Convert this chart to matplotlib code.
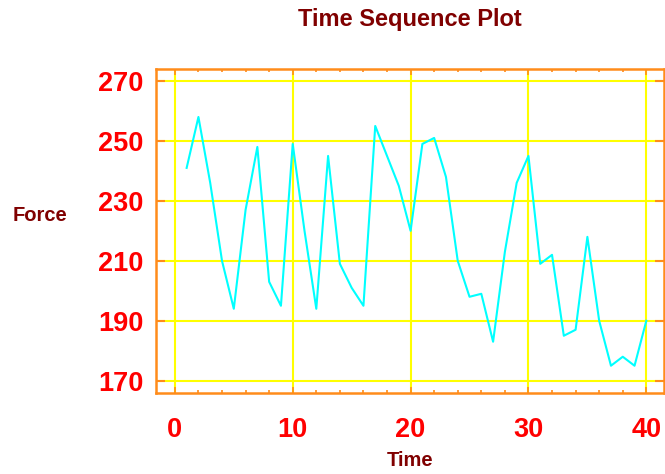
import matplotlib
matplotlib.use("Agg")
import matplotlib.pyplot as plt
from matplotlib.ticker import MultipleLocator

time = list(range(1, 41))
force = [241, 258, 236, 210, 194, 227, 248, 203, 195, 249,
         220, 194, 245, 209, 201, 195, 255, 245, 235, 220,
         249, 251, 238, 210, 198, 199, 183, 213, 236, 245,
         209, 212, 185, 187, 218, 190, 175, 178, 175, 190]

x_ticks = [0, 10, 20, 30, 40]
y_ticks = [170, 190, 210, 230, 250, 270]

title = "Time Sequence Plot"
xlabel = "Time"
ylabel = "Force"

plt.rcParams['font.family'] = ['Liberation Sans', 'DejaVu Sans']

fig = plt.figure(figsize=(6.65, 4.74), dpi=100)
ax = fig.add_axes([156/665, 1-393/474, (664-156)/665, (393-69)/474])

ax.plot(time, force, color='#00FFFF', lw=1.5, zorder=3)

ax.set_xlim(-1.6, 41.5)
ax.set_ylim(165.9, 274)
ax.set_xticks(x_ticks)
ax.set_yticks(y_ticks)
ax.xaxis.set_minor_locator(MultipleLocator(2))

ax.grid(True, which='major', color='#FFFF00', lw=1.5, zorder=1)
ax.set_axisbelow(True)

orange = '#FF8C1A'
for s in ax.spines.values():
    s.set_color(orange)
    s.set_linewidth(1.8)

ax.tick_params(axis='x', which='major', direction='in', length=4, width=1.2,
               color=orange, top=True, bottom=True, pad=17,
               labelsize=19.5, labelcolor='#FF0000')
ax.tick_params(axis='x', which='minor', direction='in', length=2.5, width=1.2,
               color=orange, top=True, bottom=True)
ax.tick_params(axis='y', which='major', direction='in', length=6.5, width=1.5,
               color=orange, left=True, right=True, pad=9,
               labelsize=19.5, labelcolor='#FF0000')
for lab in ax.get_xticklabels() + ax.get_yticklabels():
    lab.set_fontweight('bold')

dark = '#800000'
fig.text(410/665, 1-26/474, title, ha='center', va='baseline',
         fontsize=17, fontweight='bold', color=dark)
fig.text(13/665, 1-221/474, ylabel, ha='left', va='baseline',
         fontsize=14.5, fontweight='bold', color=dark)
fig.text(410/665, 1-466/474, xlabel, ha='center', va='baseline',
         fontsize=14.5, fontweight='bold', color=dark)

fig.savefig('out.png', dpi=100, facecolor='white')
